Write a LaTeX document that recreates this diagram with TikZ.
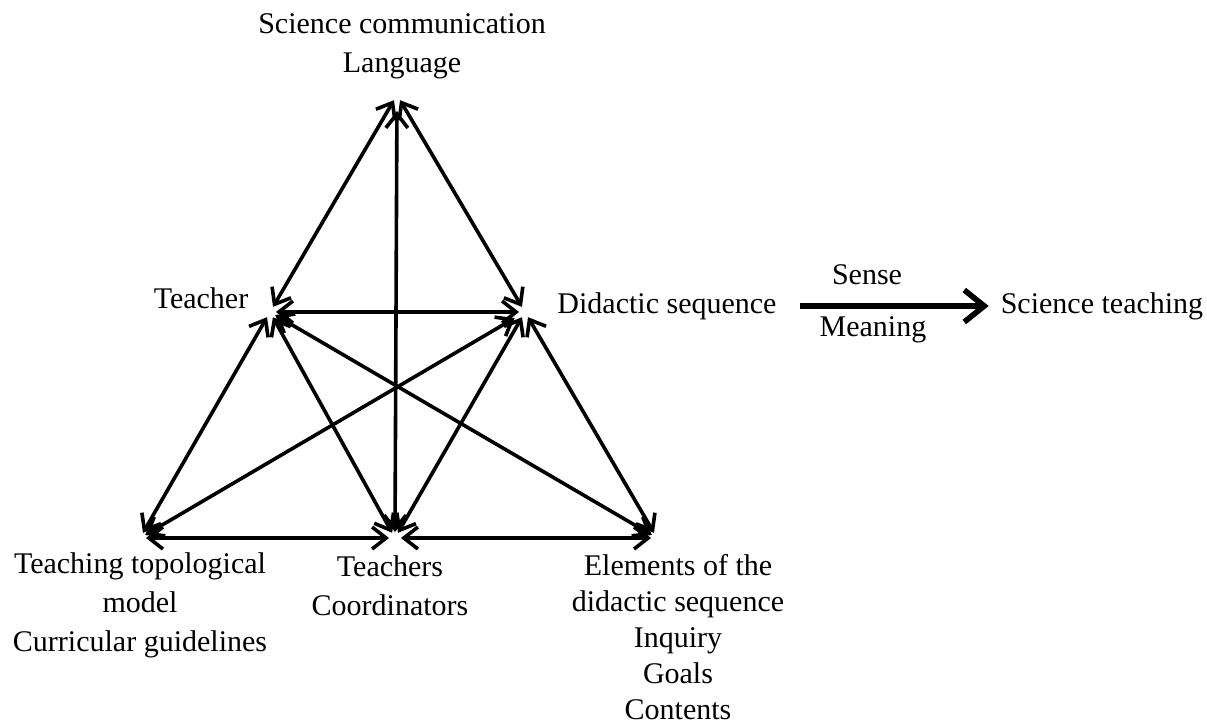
\documentclass[tikz,border=0pt]{standalone}
\usepackage{fontspec}
\setmainfont{Liberation Serif}
\usetikzlibrary{arrows.meta}

\begin{document}
\begin{tikzpicture}[x=0.5pt, y=-0.5pt,
        link/.style = {{Straight Barb[length=7pt,width=11pt]}-{Straight Barb[length=7pt,width=11pt]}, line width=1.8pt, shorten <=3pt, shorten >=3pt},
        lbl/.style = {align=center, font=\fontsize{15}{19.5}\selectfont}]
        \useasboundingbox (0,0) rectangle (1207,724);
        % corners of the triangle
        \coordinate (top) at (397,95);
        \coordinate (teach) at (270,312);
        \coordinate (didac) at (525,312);
        \coordinate (bl) at (140,538);
        \coordinate (bm) at (395,538);
        \coordinate (br) at (657,538);
        % texts
        \node[lbl] (comm) at (402,46) {Science communication\\Language};
        \node[lbl] (teachlbl) at (201,298) {Teacher};
        \node[lbl] (didlbl) at (667,306) {Didactic sequence};
        \node[lbl] (sciteach) at (1102,306) {Science teaching};
        \node[lbl] (sense) at (867,275) {Sense};
        \node[lbl] (meaning) at (873,330) {Meaning};
        \node[lbl] (model) at (140,605) {Teaching topological\\model\\Curricular guidelines};
        \node[lbl] (coord) at (390,586) {Teachers\\Coordinators};
        \node[lbl, font=\fontsize{15}{18}\selectfont] (elem) at (678,637) {Elements of the\\didactic sequence\\Inquiry\\Goals\\Contents};
        % connectors
        \draw[link] (top) -- (teach);
        \draw[link] (top) -- (didac);
        \draw[link, shorten >=8pt] (bm) -- (top);
        \draw[link] (teach) -- (didac);
        \draw[link] (teach) -- (bl);
        \draw[link] (teach) -- (bm);
        \draw[link] (teach) -- (br);
        \draw[link, shorten <=6pt] (didac) -- (bl);
        \draw[link] (didac) -- (bm);
        \draw[link] (didac) -- (br);
        \draw[link] (bl) -- (bm);
        \draw[link] (bm) -- (br);
        \draw[line width=2.8pt, -{Straight Barb[length=10pt,width=16pt]}, shorten <=8pt, shorten >=2.5pt] (didlbl.east) -- (sciteach.west);
\end{tikzpicture}
\end{document}
